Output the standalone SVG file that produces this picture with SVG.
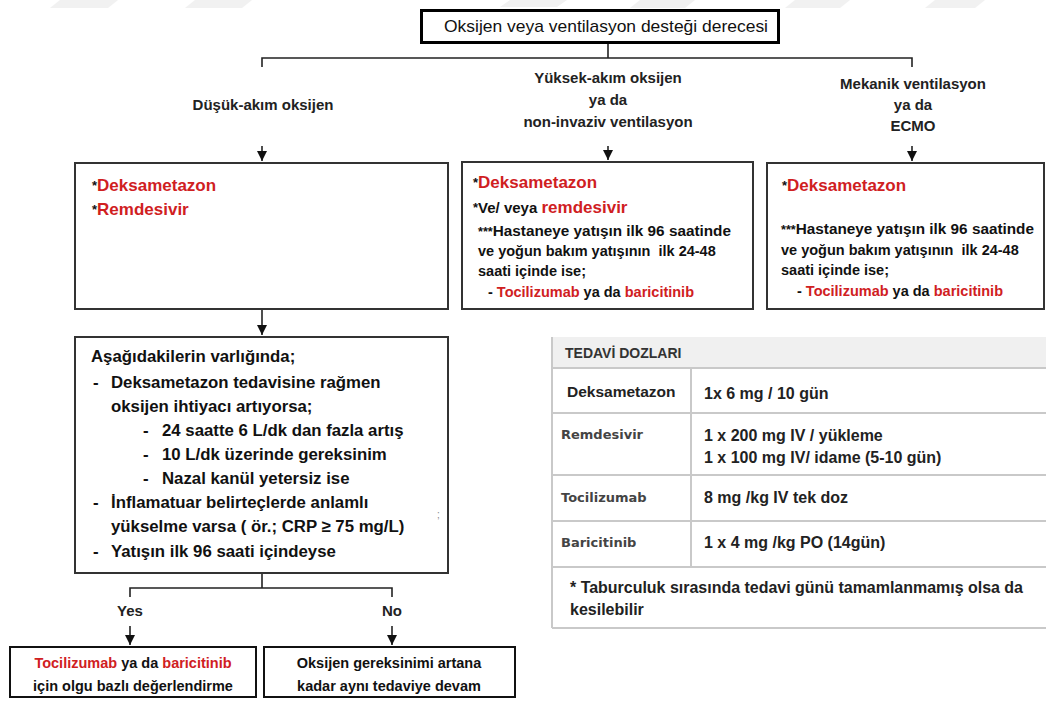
<svg xmlns="http://www.w3.org/2000/svg" width="1046" height="702" viewBox="0 0 1046 702">
  <defs>
    <marker id="arrow" viewBox="0 0 10 10" refX="10" refY="5" markerWidth="10" markerHeight="10" markerUnits="userSpaceOnUse" orient="auto">
      <path d="M0,0 L10,5 L0,10 z" fill="#111"/>
    </marker>
    <style>
      text { font-family: "Liberation Sans", Arial, sans-serif; fill: #111; }
      .b { font-weight: bold; }
      .pre { white-space: pre; }
      .red { fill: #d0201f; }
      .ast { font-size: 13px; }
      .lbl { font-size: 15px; font-weight: bold; fill: #222; text-anchor: middle; }
      .box { fill: #fff; stroke: #333; stroke-width: 2; }
      .boxk { fill: #fff; stroke: #111; stroke-width: 2; }
      .conn { fill: none; stroke: #222; stroke-width: 1.6; }
      .grid { stroke: #c9c9c9; stroke-width: 2; fill: none; }
      .drug { font-family: "DejaVu Sans", Verdana, sans-serif; font-size: 13px; font-weight: bold; fill: #444; }
      .dose { font-size: 16px; font-weight: bold; fill: #222; }
    </style>
  </defs>

  <rect width="1046" height="702" fill="#fff"/>

  <!-- faint page watermark along the top edge -->
  <g fill="#f1f1f1">
    <polygon points="60,0 118,0 108,8 50,8"/>
    <polygon points="195,0 252,0 242,8 185,8"/>
    <polygon points="510,0 567,0 557,7 500,7"/>
    <polygon points="640,0 695,0 685,8 630,8"/>
    <polygon points="795,0 850,0 840,8 785,8"/>
    <polygon points="935,0 985,0 975,8 925,8"/>
  </g>

  <!-- connectors -->
  <g id="connectors">
    <path class="conn" d="M608,43 V58 M262,67 V58 H912 V67"/>
    <line class="conn" x1="262" y1="146" x2="262" y2="161" marker-end="url(#arrow)"/>
    <line class="conn" x1="608" y1="146" x2="608" y2="160" marker-end="url(#arrow)"/>
    <line class="conn" x1="912" y1="146" x2="912" y2="161" marker-end="url(#arrow)"/>
    <line class="conn" x1="262" y1="310" x2="262" y2="335" marker-end="url(#arrow)"/>
    <path class="conn" d="M262,573 V588 M130,597 V588 H392 V597"/>
    <line class="conn" x1="130" y1="626" x2="130" y2="645" marker-end="url(#arrow)"/>
    <line class="conn" x1="392" y1="626" x2="392" y2="645" marker-end="url(#arrow)"/>
  </g>

  <!-- branch labels -->
  <g id="labels">
    <text class="lbl" x="263" y="110">Düşük-akım oksijen</text>
    <text class="lbl" x="608" y="83">Yüksek-akım oksijen</text>
    <text class="lbl" x="608" y="105">ya da</text>
    <text class="lbl" x="608" y="127">non-invaziv ventilasyon</text>
    <text class="lbl" x="913" y="89">Mekanik ventilasyon</text>
    <text class="lbl" x="913" y="110">ya da</text>
    <text class="lbl" x="913" y="131">ECMO</text>
    <text class="lbl" x="130" y="616" font-size="14">Yes</text>
    <text class="lbl" x="392" y="616" font-size="14">No</text>
  </g>

  <!-- root -->
  <g id="root">
    <rect x="421.5" y="10.5" width="357" height="32" fill="#fff" stroke="#000" stroke-width="3"/>
    <text x="606" y="32" font-size="17" text-anchor="middle" textLength="324" lengthAdjust="spacingAndGlyphs">Oksijen veya ventilasyon desteği derecesi</text>
  </g>

  <!-- low-flow oxygen -->
  <g id="low-flow">
    <rect class="box" x="75" y="163" width="373" height="146"/>
    <text class="b" x="92" y="191" font-size="17"><tspan class="ast" dy="-1">*</tspan><tspan class="red" dy="1">Deksametazon</tspan></text>
    <text class="b" x="92" y="215" font-size="17"><tspan class="ast" dy="-1">*</tspan><tspan class="red" dy="1">Remdesivir</tspan></text>
  </g>

  <!-- high-flow oxygen / NIV -->
  <g id="high-flow">
    <rect class="box" x="462" y="162" width="291" height="147"/>
    <text class="b" x="473" y="188" font-size="17"><tspan class="ast" dy="-1">*</tspan><tspan class="red" dy="1">Deksametazon</tspan></text>
    <text class="b" x="473" y="213" font-size="15"><tspan class="ast" dy="-1">*</tspan><tspan dy="1">Ve/ veya </tspan><tspan class="red" font-size="17">remdesivir</tspan></text>
    <text class="b" x="478" y="236" font-size="14.5" textLength="253" lengthAdjust="spacingAndGlyphs"><tspan font-size="12">***</tspan>Hastaneye yatışın ilk 96 saatinde</text>
    <text class="b pre" x="478" y="256" font-size="14.5">ve yoğun bakım yatışının  ilk 24-48</text>
    <text class="b" x="478" y="276" font-size="14.5">saati içinde ise;</text>
    <text class="b" x="488" y="297" font-size="14.5">- <tspan class="red">Tocilizumab</tspan> ya da <tspan class="red">baricitinib</tspan></text>
  </g>

  <!-- mechanical ventilation / ECMO -->
  <g id="mechanical">
    <rect class="box" x="767" y="163" width="277" height="146"/>
    <text class="b" x="782" y="191" font-size="17"><tspan class="ast" dy="-1">*</tspan><tspan class="red" dy="1">Deksametazon</tspan></text>
    <text class="b" x="781" y="234" font-size="14.5" textLength="253" lengthAdjust="spacingAndGlyphs"><tspan font-size="12">***</tspan>Hastaneye yatışın ilk 96 saatinde</text>
    <text class="b pre" x="781" y="255" font-size="14.5">ve yoğun bakım yatışının  ilk 24-48</text>
    <text class="b" x="781" y="275" font-size="14.5">saati içinde ise;</text>
    <text class="b" x="797" y="296" font-size="14.5">- <tspan class="red">Tocilizumab</tspan> ya da <tspan class="red">baricitinib</tspan></text>
  </g>

  <!-- escalation criteria -->
  <g id="criteria">
    <rect class="box" x="75" y="337" width="373" height="236"/>
    <text class="b" x="91" y="362" font-size="16.8">Aşağıdakilerin varlığında;</text>
    <text class="b" x="93" y="388" font-size="16.8">-</text>
    <text class="b" x="111" y="388" font-size="16.8">Deksametazon tedavisine rağmen</text>
    <text class="b" x="111" y="412" font-size="16.8">oksijen ihtiyacı artıyorsa;</text>
    <text class="b" x="143" y="436" font-size="16.8">-</text>
    <text class="b" x="162" y="436" font-size="16.8">24 saatte 6 L/dk dan fazla artış</text>
    <text class="b" x="143" y="460" font-size="16.8">-</text>
    <text class="b" x="162" y="460" font-size="16.8">10 L/dk üzerinde gereksinim</text>
    <text class="b" x="143" y="484" font-size="16.8">-</text>
    <text class="b" x="162" y="484" font-size="16.8">Nazal kanül yetersiz ise</text>
    <text class="b" x="93" y="508" font-size="16.8">-</text>
    <text class="b" x="111" y="508" font-size="16.8">İnflamatuar belirteçlerde anlamlı</text>
    <text class="b" x="111" y="532" font-size="16.8">yükselme varsa ( ör.; CRP ≥ 75 mg/L)</text>
    <text class="b" x="93" y="557" font-size="16.8">-</text>
    <text class="b" x="111" y="557" font-size="16.8">Yatışın ilk 96 saati içindeyse</text>
    <text x="437" y="518" font-size="10" style="fill:#888">;</text>
  </g>

  <!-- yes outcome -->
  <g id="yes-outcome">
    <rect class="boxk" x="10" y="647" width="246" height="50"/>
    <text class="b" x="133" y="668" font-size="14.5" text-anchor="middle"><tspan class="red">Tocilizumab</tspan> ya da <tspan class="red">baricitinib</tspan></text>
    <text class="b" x="133" y="691" font-size="14.5" text-anchor="middle">için olgu bazlı değerlendirme</text>
  </g>

  <!-- no outcome -->
  <g id="no-outcome">
    <rect class="boxk" x="264" y="647" width="251" height="50"/>
    <text class="b" x="389" y="668" font-size="14.5" text-anchor="middle">Oksijen gereksinimi artana</text>
    <text class="b" x="389" y="691" font-size="14.5" text-anchor="middle">kadar aynı tedaviye devam</text>
  </g>

  <!-- dose table -->
  <g id="dose-table">
    <rect x="552" y="337" width="494" height="31" fill="#f0f0f0"/>
    <text class="b" x="565" y="358" font-size="14" style="fill:#333">TEDAVİ DOZLARI</text>
    <path class="grid" d="M552,337 V628 M552,368 H1046 M552,413 H1046 M552,475 H1046 M552,521 H1046 M552,567 H1046 M552,628 H1046 M691,368 V567"/>
    <text class="b" x="567" y="397" font-size="15.5" style="fill:#222">Deksametazon</text>
    <text class="dose" x="704" y="399">1x 6 mg / 10 gün</text>
    <text class="drug" x="561" y="439">Remdesivir</text>
    <text class="dose" x="704" y="441">1 x 200 mg IV / yükleme</text>
    <text class="dose" x="704" y="463">1 x 100 mg IV/ idame (5-10 gün)</text>
    <text class="drug" x="561" y="502">Tocilizumab</text>
    <text class="dose" x="704" y="503">8 mg /kg IV tek doz</text>
    <text class="drug" x="561" y="547">Baricitinib</text>
    <text class="dose" x="704" y="548">1 x 4 mg /kg PO (14gün)</text>
    <text class="dose" x="570" y="593" textLength="453" lengthAdjust="spacingAndGlyphs">* Taburculuk sırasında tedavi günü tamamlanmamış olsa da</text>
    <text class="dose" x="570" y="615">kesilebilir</text>
  </g>
</svg>
